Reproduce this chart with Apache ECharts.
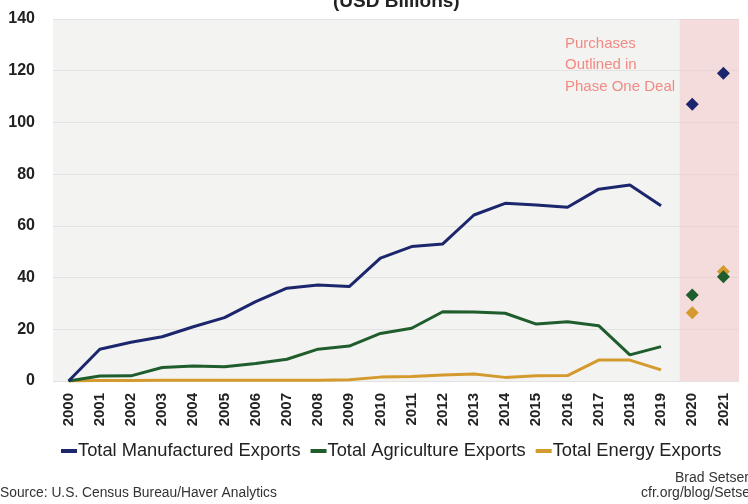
<!DOCTYPE html>
<html>
<head>
<meta charset="utf-8">
<script src="https://cdn.jsdelivr.net/npm/echarts@6/dist/echarts.min.js"></script>
<style>
html,body{margin:0;padding:0;background:#fff;}
#chart{width:748px;height:504px;}
</style>
</head>
<body>
<div id="chart"></div>
<script>
var years = ['2000','2001','2002','2003','2004','2005','2006','2007','2008','2009','2010',
  '2011','2012','2013','2014','2015','2016','2017','2018','2019','2020','2021'];
var manufactured = [0, 12.3, 15.0, 17.1, 21.0, 24.5, 30.7, 35.9, 37.1, 36.5, 47.5,
  52.0, 53.0, 64.2, 68.7, 68.1, 67.2, 74.2, 75.8, 67.8];
var agriculture = [0, 1.9, 2.0, 5.2, 5.8, 5.5, 6.8, 8.4, 12.3, 13.5, 18.4,
  20.4, 26.8, 26.7, 26.2, 22.0, 22.9, 21.4, 10.1, 13.3];
var energy = [0, 0.2, 0.2, 0.3, 0.3, 0.3, 0.3, 0.3, 0.3, 0.5, 1.5,
  1.7, 2.3, 2.7, 1.4, 2.0, 2.1, 8.1, 8.1, 4.3];
var phaseOneYears = ['2020','2021'];
var phaseOneManufactured = [107.0, 119.0];
var phaseOneAgriculture = [33.3, 40.3];
var phaseOneEnergy = [26.4, 42.3];
var phaseBand = [20.1, 22];
var yTicks = {min: 0, max: 140, interval: 20};

var C_BLUE = '#1c266c', C_GREEN = '#1f5d2c', C_ORANGE = '#d59a2e';
var FONT = '"Liberation Sans", Arial, sans-serif';

function pairs(xs, vs){ return xs.map(function(x,i){return [x, vs[i]];}); }

var chart = echarts.init(document.getElementById('chart'), null, {renderer:'canvas'});
chart.setOption({
  animation: false,
  textStyle: {fontFamily: FONT},
  grid: {left: 53, right: 9, top: 19, bottom: 123, show: true, backgroundColor: '#f3f3f2', borderWidth: 0},
  xAxis: [{
    type: 'category', data: years, boundaryGap: true,
    axisLine: {show: false}, axisTick: {show: false},
    axisLabel: {rotate: 90, fontSize: 15, fontWeight: 'bold', color: '#222', margin: 12, interval: 0, fontFamily: FONT}
  }, {
    type: 'value', min: 0, max: 22, show: false
  }],
  yAxis: {
    type: 'value', min: yTicks.min, max: yTicks.max, interval: yTicks.interval,
    axisLine: {show: false}, axisTick: {show: false},
    splitLine: {lineStyle: {color: '#e2e2e2', width: 1}},
    axisLabel: {fontSize: 16, fontWeight: 'bold', color: '#222', margin: 18, fontFamily: FONT}
  },
  legend: {
    top: 437, left: 56, itemGap: 10, itemWidth: 16, itemHeight: 4, icon: 'rect',
    textStyle: {fontSize: 18.3, color: '#222', fontFamily: FONT, padding: [0,0,0,-4]},
    data: ['Total Manufactured Exports', 'Total Agriculture Exports', 'Total Energy Exports']
  },
  graphic: [
    {type: 'text', left: 333, top: -8, style: {text: '(USD Billions)', fontSize: 19, fontWeight: 'bold', fill: '#222', fontFamily: FONT}},
    {type: 'text', left: 565, top: 33, style: {text: 'Purchases\nOutlined in\nPhase One Deal', fontSize: 15, lineHeight: 21.5, fill: '#f28a84', fontFamily: FONT}},
    {type: 'text', left: 0, top: 486, style: {text: 'Source: U.S. Census Bureau/Haver Analytics', fontSize: 13.8, fill: '#333', fontFamily: FONT}},
    {type: 'text', left: 675, top: 471, style: {text: 'Brad Setser', fontSize: 14, fill: '#333', fontFamily: FONT}},
    {type: 'text', left: 641, top: 486, style: {text: 'cfr.org/blog/Setser', fontSize: 14, fill: '#333', fontFamily: FONT}}
  ],
  series: [
    {type: 'line', name: 'band', xAxisIndex: 1, data: [], silent: true,
      markArea: {silent: true, itemStyle: {color: 'rgba(243,200,200,0.55)'},
        data: [[{xAxis: phaseBand[0]}, {xAxis: phaseBand[1]}]]}},
    {type: 'line', name: 'Total Manufactured Exports', data: manufactured, showSymbol: false,
      lineStyle: {color: C_BLUE, width: 3}, itemStyle: {color: C_BLUE}, z: 5},
    {type: 'line', name: 'Total Agriculture Exports', data: agriculture, showSymbol: false,
      lineStyle: {color: C_GREEN, width: 3}, itemStyle: {color: C_GREEN}, z: 4},
    {type: 'line', name: 'Total Energy Exports', data: energy, showSymbol: false,
      lineStyle: {color: C_ORANGE, width: 3}, itemStyle: {color: C_ORANGE}, z: 3},
    {type: 'scatter', data: pairs(phaseOneYears, phaseOneManufactured), symbol: 'diamond', symbolSize: 13,
      itemStyle: {color: C_BLUE, opacity: 1}, z: 6},
    {type: 'scatter', data: pairs(phaseOneYears, phaseOneEnergy), symbol: 'diamond', symbolSize: 13,
      itemStyle: {color: C_ORANGE, opacity: 1}, z: 6},
    {type: 'scatter', data: pairs(phaseOneYears, phaseOneAgriculture), symbol: 'diamond', symbolSize: 13,
      itemStyle: {color: C_GREEN, opacity: 1}, z: 7}
  ]
});
</script>
</body>
</html>
